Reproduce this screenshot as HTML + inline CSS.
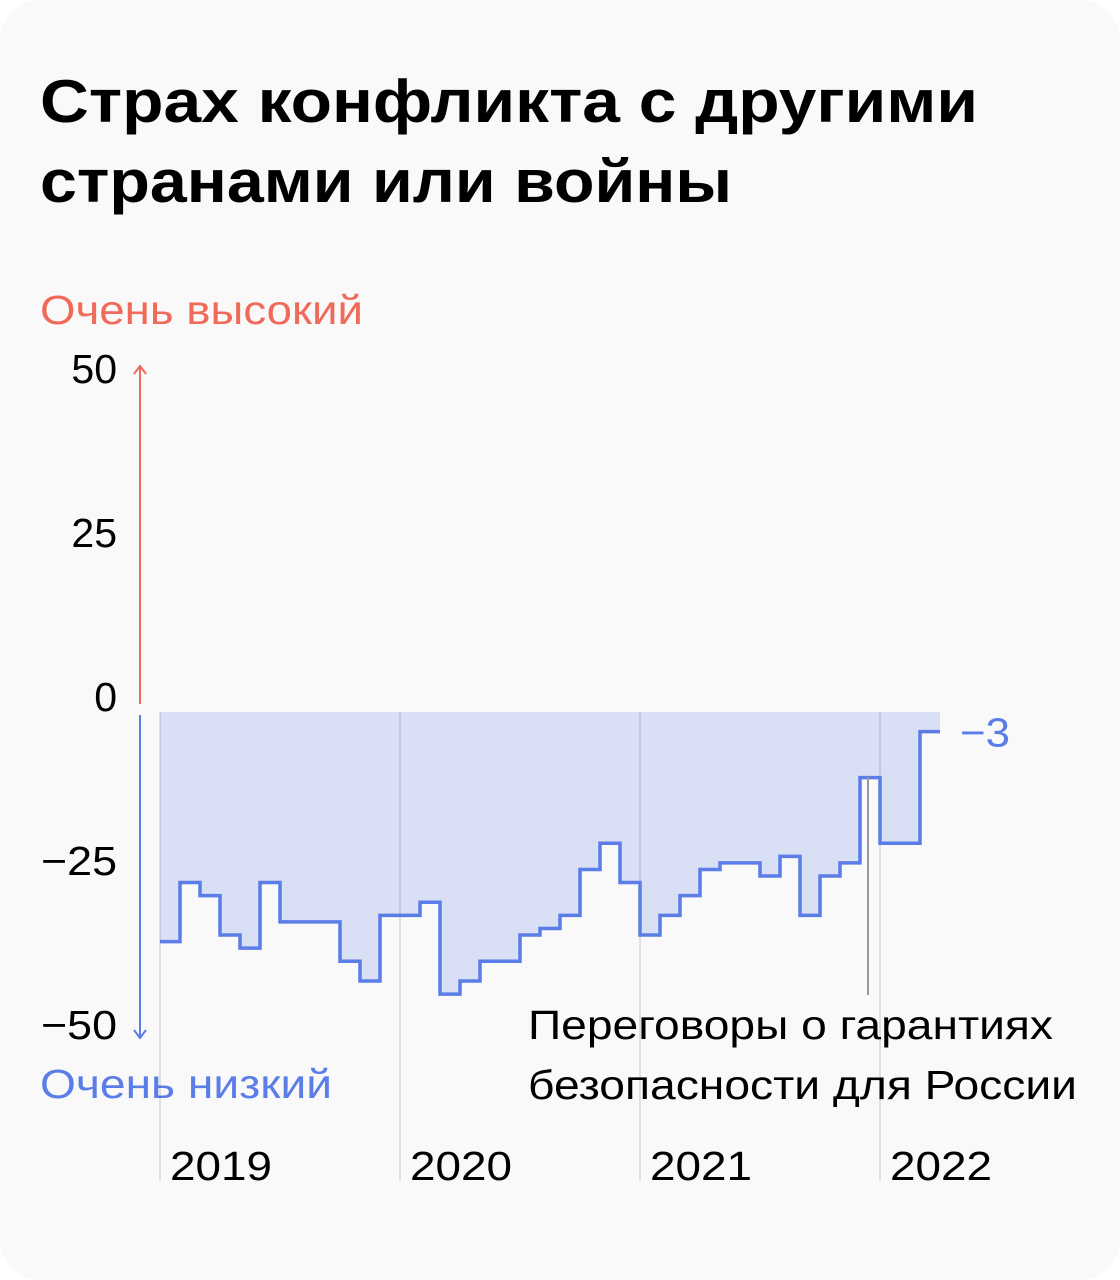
<!DOCTYPE html>
<html><head><meta charset="utf-8"><style>
body{margin:0;background:#fff;}
#card{position:absolute;left:0;top:0;width:1120px;height:1280px;background:#f9f9f9;border-radius:40px;}
svg{position:absolute;left:0;top:0;}
text{font-family:"Liberation Sans","DejaVu Sans",sans-serif;}
</style></head><body>
<div id="card"></div>
<svg width="1120" height="1280">
<text x="40" y="122" font-size="60" font-weight="bold" fill="#000" textLength="938" lengthAdjust="spacingAndGlyphs">Страх конфликта с другими</text>
<text x="40" y="202" font-size="60" font-weight="bold" fill="#000" textLength="692" lengthAdjust="spacingAndGlyphs">странами или войны</text>
<text x="40" y="324" font-size="41" fill="#f06a5a" textLength="323" lengthAdjust="spacingAndGlyphs">Очень высокий</text>
<text x="40" y="1098" font-size="41" fill="#5b7de8" textLength="292" lengthAdjust="spacingAndGlyphs">Очень низкий</text>
<g id="g"></g>
</svg>
<script>
const values=[-35,-26,-28,-34,-36,-26,-32,-32,-32,-38,-41,-31,-31,-29,-43,-41,-38,-38,-34,-33,-31,-24,-20,-26,-34,-31,-28,-24,-23,-23,-25,-22,-31,-25,-23,-10,-20,-20,-3];
const yTicks=[50,25,0,-25,-50];
const yTickLabels=["50","25","0","−25","−50"];
const years=["2019","2020","2021","2022"];
const lastLabel="−3";
const NS="http://www.w3.org/2000/svg";
const g=document.getElementById('g');
const x=i=>160+i*20;
const y=v=>712-v*6.56;
function mk(t,a,parent){const e=document.createElementNS(NS,t);for(const k in a)e.setAttribute(k,a[k]);(parent||g).appendChild(e);return e;}
let d=`M${x(0)},${y(values[0])}`;
values.forEach((v,i)=>{d+=` L${x(i)},${y(v)} L${x(i+1)},${y(v)}`;});
const area=mk('path',{d:`M${x(0)},${y(0)} L`+d.slice(1)+` L${x(values.length)},${y(0)} Z`,fill:'#d9dff5'});


years.forEach((yr,i)=>{
 const l=mk('line',{x1:x(i*12),x2:x(i*12),y1:y(0),y2:1180,stroke:'#000','stroke-opacity':0.1,'stroke-width':2});
 
 
 const t=mk('text',{x:x(i*12)+10,y:1180,'font-size':41,fill:'#000',textLength:102,lengthAdjust:'spacingAndGlyphs'});
 t.textContent=yr;
 
 
});
const line=mk('path',{d:d,fill:'none',stroke:'#5b7de8','stroke-width':3.5});


yTicks.forEach((v,i)=>{
 const t=mk('text',{x:117,y:y(v)-1,'font-size':41,fill:'#000','text-anchor':'end'});
 t.textContent=yTickLabels[i];
 if(v<0){t.setAttribute('textLength',76);t.setAttribute('lengthAdjust','spacingAndGlyphs');}
 
 
});
const up=mk('path',{d:`M140,${y(0)-8} L140,${y(50)-18} M134,${y(50)-10} L140,${y(50)-18} L146,${y(50)-10}`,stroke:'#f06a5a','stroke-width':2,fill:'none'});


const dn=mk('path',{d:`M140,${y(0)+3} L140,${y(-50)-2} M134,${y(-50)-10} L140,${y(-50)-2} L146,${y(-50)-10}`,stroke:'#5b7de8','stroke-width':2,fill:'none'});


const al=mk('line',{x1:868,x2:868,y1:y(values[35]),y2:995,stroke:'#999','stroke-width':2});


const a1=mk('text',{x:528,y:1039,'font-size':41,fill:'#000',textLength:525,lengthAdjust:'spacingAndGlyphs'});a1.textContent='Переговоры о гарантиях';


const a2=mk('text',{x:528,y:1099,'font-size':41,fill:'#000',textLength:549,lengthAdjust:'spacingAndGlyphs'});a2.textContent='безопасности для России';


const lv=mk('text',{x:960,y:y(values[values.length-1])+15,'font-size':41,fill:'#5b7de8',textLength:50,lengthAdjust:'spacingAndGlyphs'});
lv.textContent=lastLabel;


</script>
</body></html>
